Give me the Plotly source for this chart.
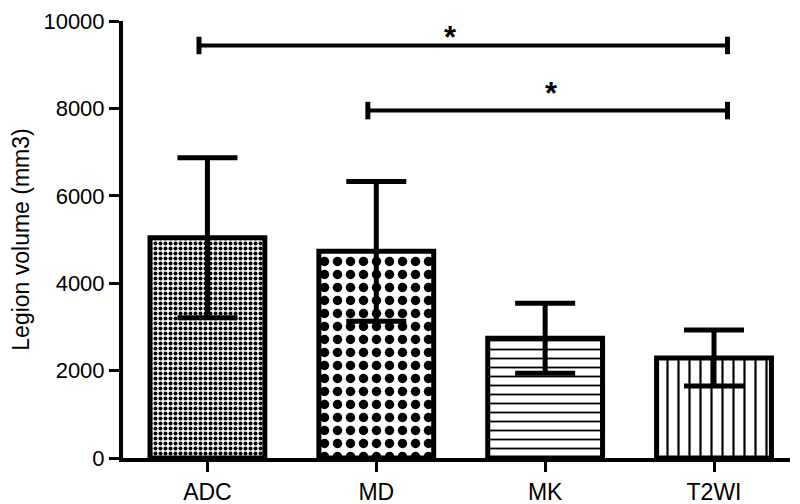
import plotly.graph_objects as go

categories = ["ADC", "MD", "MK", "T2WI"]
means = [5040, 4730, 2740, 2290]
errors = [1830, 1600, 800, 640]
patterns = [".", ".", "-", "|"]
pattern_sizes = [5, 13, 9, 11]
pattern_solidity = [0.5, 0.42, 0.2, 0.2]

y_ticks = [0, 2000, 4000, 6000, 8000, 10000]

# significance brackets: (start category index, end category index, y level)
sig_starts = [0, 1]
sig_ends = [3, 3]
sig_levels = [9440, 7950]
sig_labels = ["*", "*"]
sig_label_x = [1.44, 2.04]
sig_label_dy = [-230, -30]

FONT = "Liberation Sans, Arial, Helvetica, sans-serif"

fig = go.Figure()
for i, cat in enumerate(categories):
    fig.add_trace(go.Bar(
        x=[i], y=[means[i]], width=0.68,
        marker=dict(
            color="white",
            line=dict(color="black", width=5),
            pattern=dict(shape=patterns[i], size=pattern_sizes[i],
                         solidity=pattern_solidity[i], fgcolor="black",
                         bgcolor="white", fillmode="replace"),
        ),
        error_y=dict(type="data", array=[errors[i]], symmetric=True,
                     color="black", thickness=5, width=30),
        showlegend=False,
    ))

for s, e, lvl, lab, lx, dy in zip(sig_starts, sig_ends, sig_levels, sig_labels,
                                  sig_label_x, sig_label_dy):
    x0 = s - 0.05
    x1 = e + 0.08
    fig.add_shape(type="line", x0=x0, x1=x1, y0=lvl, y1=lvl, xref="x", yref="y",
                  line=dict(color="black", width=4))
    for xx in (x0, x1):
        fig.add_shape(type="line", x0=xx, x1=xx, y0=lvl - 200, y1=lvl + 200,
                      xref="x", yref="y", line=dict(color="black", width=5))
    fig.add_annotation(x=lx, y=lvl + dy,
                       xref="x", yref="y", text="<b>" + lab + "</b>",
                       showarrow=False, yanchor="bottom", borderpad=0,
                       font=dict(size=31, family=FONT, color="black"))

fig.update_layout(
    width=792, height=496,
    margin=dict(l=115, r=10, t=13, b=46),
    paper_bgcolor="white", plot_bgcolor="white",
    font=dict(family=FONT, size=23, color="black"),
)
fig.update_xaxes(
    range=[-0.5, 3.45], tickmode="array", tickvals=list(range(len(categories))),
    ticktext=categories, showline=True, linecolor="black", linewidth=4,
    ticks="outside", ticklen=10, tickwidth=3, tickcolor="black",
    showgrid=False, zeroline=False, tickfont=dict(size=23), automargin=False,
    ticklabeloverflow="allow",
)
fig.update_yaxes(
    range=[0, 10000], tickvals=y_ticks, ticktext=[str(v) for v in y_ticks],
    showline=True, linecolor="black", linewidth=4,
    ticks="outside", ticklen=10, tickwidth=3, tickcolor="black",
    showgrid=False, zeroline=False, tickfont=dict(size=22), automargin=False,
    ticklabeloverflow="allow",
    title=dict(text="Legion volume (mm3)", font=dict(size=23)),
)

fig.write_html("out.html")
